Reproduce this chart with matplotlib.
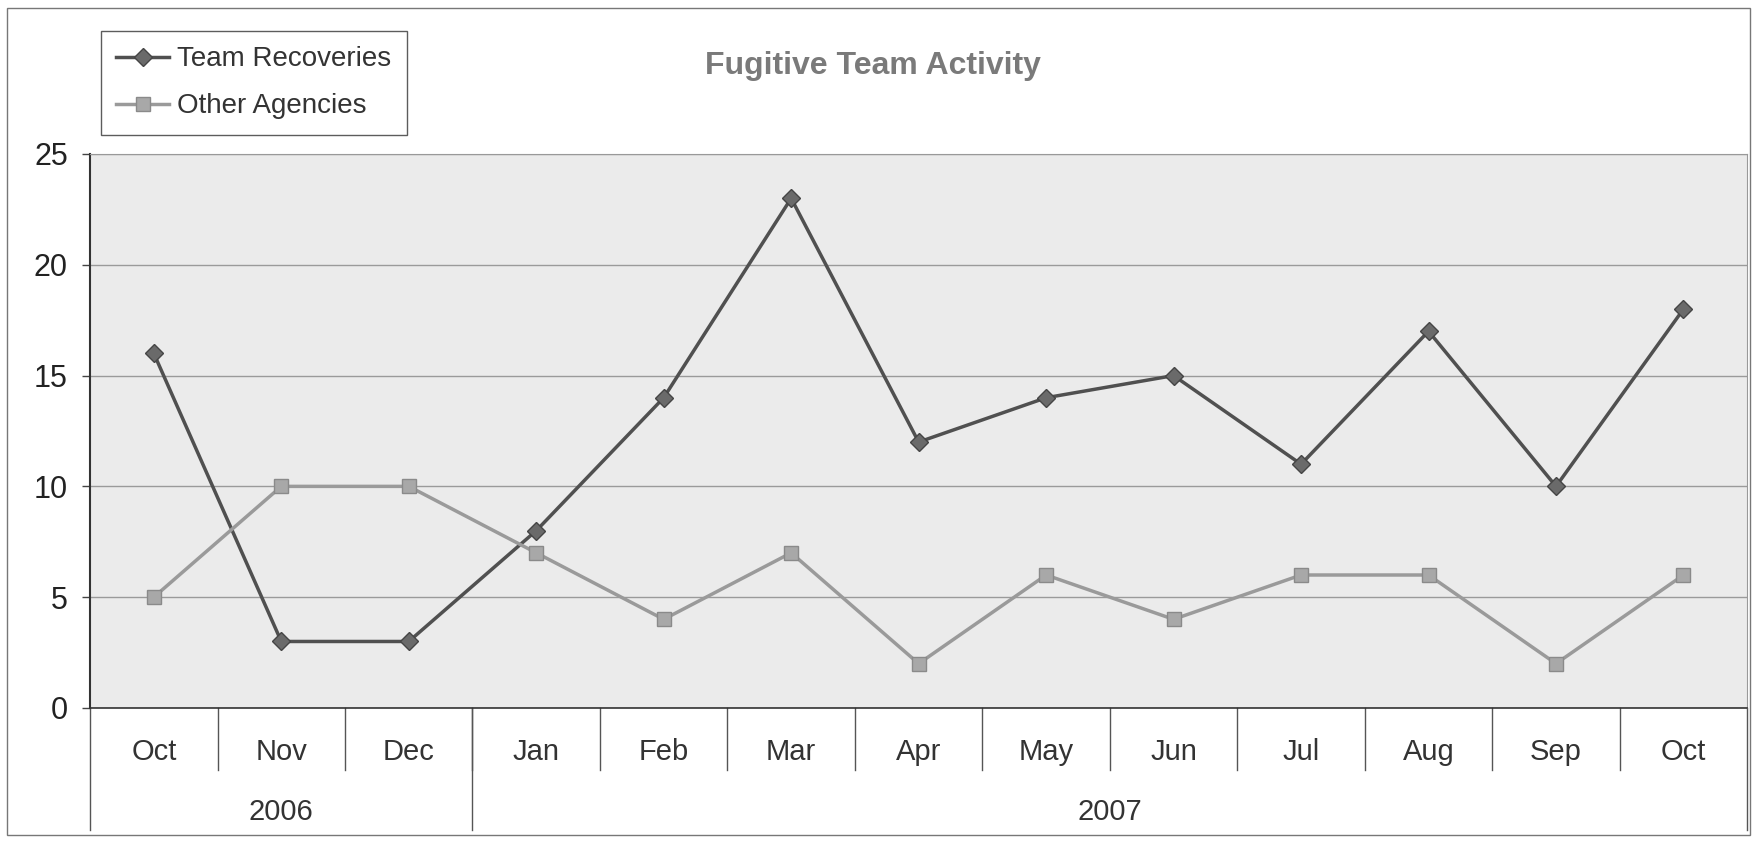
import matplotlib.pyplot as plt
from matplotlib.patches import Rectangle

# Data
months = ['Oct', 'Nov', 'Dec', 'Jan', 'Feb', 'Mar', 'Apr', 'May', 'Jun', 'Jul', 'Aug', 'Sep', 'Oct']
years = ['2006', '2007']
year_spans = [3, 10]
team_recoveries = [16, 3, 3, 8, 14, 23, 12, 14, 15, 11, 17, 10, 18]
other_agencies = [5, 10, 10, 7, 4, 7, 2, 6, 4, 6, 6, 2, 6]

plt.rcParams['font.family'] = ['Liberation Sans', 'DejaVu Sans']

fig = plt.figure(figsize=(17.56, 8.41), dpi=100)
ax = fig.add_axes([0.0513, 0.1582, 0.9437, 0.6587])
ax.set_facecolor('#ebebeb')

x = [i + 0.5 for i in range(len(months))]
ax.plot(x, team_recoveries, color='#505050', lw=2.5, marker='D', ms=9,
        mfc='#6a6a6a', mec='#454545', label='Team Recoveries', zorder=3)
ax.plot(x, other_agencies, color='#9a9a9a', lw=2.5, marker='s', ms=10,
        mfc='#a8a8a8', mec='#8a8a8a', label='Other Agencies', zorder=3)

ax.set_xlim(0, len(months))
ax.set_ylim(0, 25)
ax.set_yticks(range(0, 26, 5))
ax.tick_params(axis='y', length=6, width=1, color='#444444', labelsize=22, pad=10, labelcolor='#222222')
ax.set_xticks([])
ax.grid(axis='y', color='#9a9a9a', lw=1)
ax.set_axisbelow(True)
for s in ['top', 'right']:
    ax.spines[s].set_color('#999999')
ax.spines['left'].set_color('#333333')
ax.spines['left'].set_linewidth(1.5)
ax.spines['bottom'].set_color('#333333')
ax.spines['bottom'].set_linewidth(1.2)

# two-level category axis below the plot
trans = ax.get_xaxis_transform()
for i in range(1, len(months)):
    ax.plot([i, i], [0, -0.112], transform=trans, color='#555555', lw=1, clip_on=False)
for i, m in enumerate(months):
    ax.text(i + 0.5, -0.079, m, transform=trans, ha='center', va='center', fontsize=21, color='#333333')
start = 0
for y, n in zip(years, year_spans):
    ax.plot([start, start], [0, -0.22], transform=trans, color='#555555', lw=1, clip_on=False)
    ax.text(start + n / 2, -0.188, y, transform=trans, ha='center', va='center', fontsize=21, color='#333333')
    start += n
ax.plot([start, start], [0, -0.22], transform=trans, color='#555555', lw=1, clip_on=False)

fig.text(0.497, 0.921, 'Fugitive Team Activity', ha='center', va='center',
         fontsize=23, fontweight='bold', color='#7a7a7a')

leg = fig.legend(loc='upper left', bbox_to_anchor=(0.0575, 0.963), borderaxespad=0, fontsize=20,
                 frameon=True, fancybox=False, edgecolor='#333333', handlelength=1.9,
                 handletextpad=0.3, borderpad=0.55, labelspacing=0.75)
leg.get_frame().set_linewidth(1)
for t in leg.get_texts():
    t.set_color('#333333')

# outer chart frame
fig.patches.append(Rectangle((7 / 1756, 6 / 841), 1743 / 1756, 827 / 841, transform=fig.transFigure,
                             fill=False, edgecolor='#777777', lw=1))

fig.savefig('out.png', dpi=100)
